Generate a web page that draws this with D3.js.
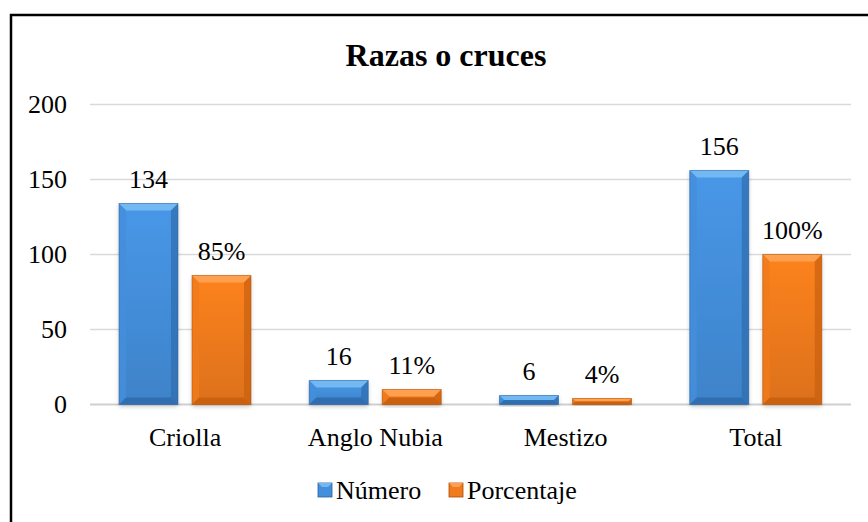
<!DOCTYPE html>
<html>
<head>
<meta charset="utf-8">
<script src="https://cdn.jsdelivr.net/npm/d3@7"></script>
<style>
  body { margin: 0; background: #fff; }
  svg text { font-family: "Liberation Serif", "Times New Roman", serif; }
</style>
</head>
<body>
<svg id="chart" width="868" height="522"></svg>
<script>
// data
const categories = ["Criolla", "Anglo Nubia", "Mestizo", "Total"];
const series = ["Número", "Porcentaje"];
const numero = [134, 16, 6, 156];
const porcentaje = [86, 10, 4, 100];
const numeroLabels = ["134", "16", "6", "156"];
const porcentajeLabels = ["85%", "11%", "4%", "100%"];
const yTicks = [0, 50, 100, 150, 200];

const colors = {
  "Número": { mid: "#448fdc", light: "#72b8f3", dark: "#2f6cae", edge: "#2a5f99" },
  "Porcentaje": { mid: "#f07b1c", light: "#ffa050", dark: "#c95f0e", edge: "#a94d0a" }
};

const svg = d3.select("#chart");

// frame (only top and left edges fall inside the window)
svg.append("rect")
  .attr("x", 11).attr("y", 15)
  .attr("width", 900).attr("height", 560)
  .attr("fill", "none").attr("stroke", "#000").attr("stroke-width", 2.5);

svg.append("text")
  .text("Razas o cruces")
  .attr("x", 446).attr("y", 66)
  .attr("text-anchor", "middle")
  .attr("font-weight", "bold").attr("font-size", "32px");

const plot = { left: 90, right: 851, top: 104.5, bottom: 404.5 };

const y = d3.scaleLinear().domain([0, 200]).range([plot.bottom, plot.top]);
const x0 = d3.scaleBand().domain(categories).range([plot.left, plot.right]);
const x1 = d3.scaleBand().domain(series).range([29, 161]).paddingInner(0.192);

// gridlines
svg.append("g").selectAll("line")
  .data(yTicks)
  .join("line")
  .attr("x1", plot.left).attr("x2", plot.right)
  .attr("y1", d => y(d)).attr("y2", d => y(d))
  .attr("stroke", d => d === 0 ? "#cfcfcf" : "#d9d9d9")
  .attr("stroke-width", d => d === 0 ? 2 : 1.5);

// y axis labels
const yaxis = d3.axisLeft(y).tickValues(yTicks).tickSize(0).tickPadding(0);
const yg = svg.append("g")
  .attr("transform", "translate(67,0)")
  .call(yaxis);
yg.select(".domain").remove();
yg.selectAll("text")
  .attr("font-size", "26px").attr("fill", "#000").attr("dy", "0.32em");

// x axis labels
const xaxis = d3.axisBottom(x0).tickSize(0).tickPadding(0);
const xg = svg.append("g")
  .attr("transform", `translate(0,${plot.bottom + 41})`)
  .call(xaxis);
xg.select(".domain").remove();
xg.selectAll("text")
  .attr("font-size", "26px").attr("fill", "#000").attr("dy", "0");

// gradients
const defs = svg.append("defs");
series.forEach((s, i) => {
  const c = colors[s];
  const g = defs.append("linearGradient").attr("id", "grad" + i)
    .attr("x1", 0).attr("y1", 0).attr("x2", 0).attr("y2", 1);
  g.append("stop").attr("offset", "0%").attr("stop-color", d3.color(c.mid).brighter(0.15));
  g.append("stop").attr("offset", "100%").attr("stop-color", d3.color(c.mid).darker(0.25));
  const f = defs.append("filter").attr("id", "shadow" + i)
    .attr("x", "-20%").attr("y", "-20%").attr("width", "140%").attr("height", "140%");
  f.append("feDropShadow").attr("dx", 0).attr("dy", 2).attr("stdDeviation", 2)
    .attr("flood-color", "#000").attr("flood-opacity", 0.22);
});

const rows = categories.map((c, i) => ({
  cat: c,
  vals: [
    { s: series[0], v: numero[i], label: numeroLabels[i], idx: 0 },
    { s: series[1], v: porcentaje[i], label: porcentajeLabels[i], idx: 1 }
  ]
}));

const groups = svg.append("g").selectAll("g")
  .data(rows)
  .join("g")
  .attr("transform", d => `translate(${x0(d.cat)},0)`);

const bars = groups.selectAll("g.bar")
  .data(d => d.vals)
  .join("g").attr("class", "bar");

bars.each(function(d) {
  const g = d3.select(this);
  const c = colors[d.s];
  const bx = x1(d.s), bw = x1.bandwidth();
  const top = y(d.v), h = plot.bottom - top;
  const bv = Math.min(7, h / 2);
  g.append("rect")
    .attr("x", bx).attr("y", top).attr("width", bw).attr("height", h)
    .attr("fill", `url(#grad${d.idx})`)
    .attr("filter", `url(#shadow${d.idx})`);
  // bevel: top
  g.append("polygon")
    .attr("points", [[bx, top], [bx + bw, top], [bx + bw - bv, top + bv], [bx + bv, top + bv]].join(" "))
    .attr("fill", c.light);
  // bevel: left
  g.append("polygon")
    .attr("points", [[bx, top], [bx + bv, top + bv], [bx + bv, top + h - bv], [bx, top + h]].join(" "))
    .attr("fill", c.mid).attr("opacity", 0.8);
  // bevel: right
  g.append("polygon")
    .attr("points", [[bx + bw, top], [bx + bw, top + h], [bx + bw - bv, top + h - bv], [bx + bw - bv, top + bv]].join(" "))
    .attr("fill", c.dark).attr("opacity", 0.7);
  // bevel: bottom
  g.append("polygon")
    .attr("points", [[bx, top + h], [bx + bv, top + h - bv], [bx + bw - bv, top + h - bv], [bx + bw, top + h]].join(" "))
    .attr("fill", c.dark).attr("opacity", 0.9);
  g.append("rect")
    .attr("x", bx).attr("y", top).attr("width", bw).attr("height", h)
    .attr("fill", "none").attr("stroke", c.edge).attr("stroke-width", 1).attr("stroke-opacity", 0.5);
  g.append("text")
    .text(d.label)
    .attr("x", bx + bw / 2).attr("y", top - 16)
    .attr("text-anchor", "middle").attr("font-size", "26px").attr("fill", "#000");
});

// legend
const legend = svg.append("g").attr("transform", "translate(0,490)");
const legendX = [318, 449];
series.forEach((s, i) => {
  const c = colors[s];
  const lg = legend.append("g").attr("transform", `translate(${legendX[i]},0)`);
  lg.append("rect").attr("x", 0).attr("y", -7).attr("width", 14).attr("height", 14)
    .attr("fill", c.mid).attr("stroke", c.edge).attr("stroke-width", 0.8);
  lg.append("polygon").attr("points", "0,-7 14,-7 10,-3 4,-3").attr("fill", c.light);
  lg.append("text").text(s)
    .attr("x", 18).attr("y", 9)
    .attr("font-size", "26px").attr("fill", "#000");
});
</script>
</body>
</html>
